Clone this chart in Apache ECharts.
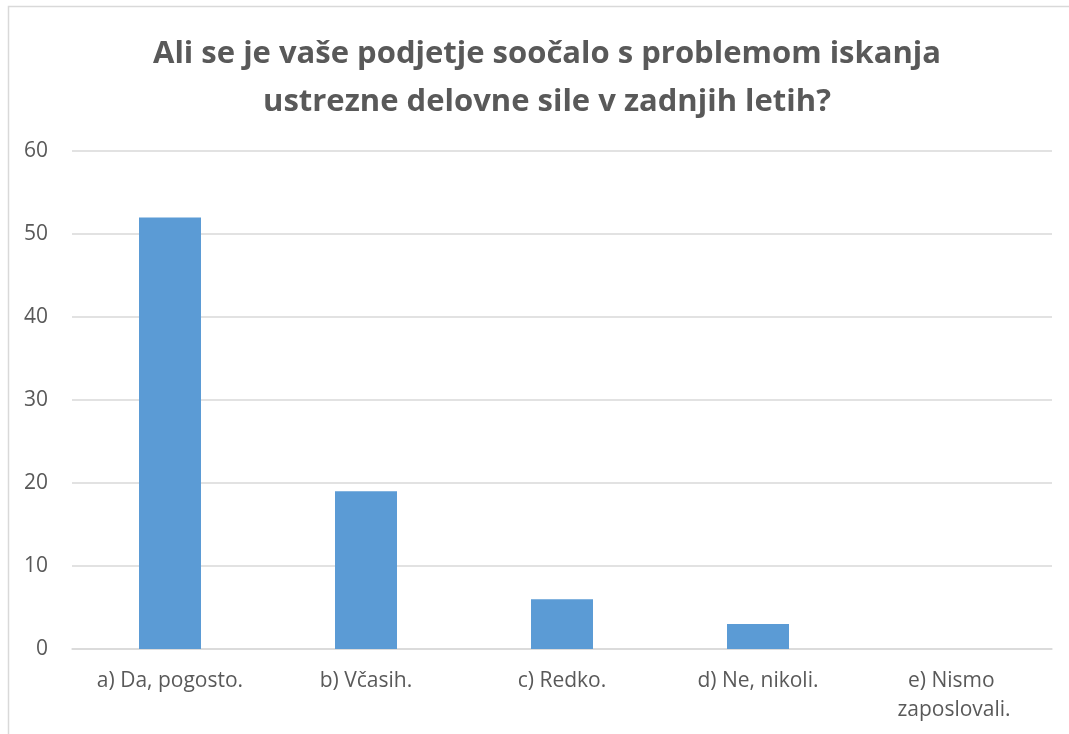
<!DOCTYPE html>
<html>
<head>
<meta charset="utf-8">
<script src="https://cdn.jsdelivr.net/npm/echarts@6/dist/echarts.min.js"></script>
<style>
html,body{margin:0;padding:0;background:#fff;}
#c{width:1069px;height:734px;}
</style>
</head>
<body>
<div id="c"></div>
<script>
const titleText = "Ali se je vaše podjetje soočalo s problemom iskanja\nustrezne delovne sile v zadnjih letih?";
const categories = ["a) Da, pogosto.", "b) Včasih.", "c) Redko.", "d) Ne, nikoli.", "e) Nismo zaposlovali."];
const values = [52, 19, 6, 3, 0];
const yTicks = {min: 0, max: 60, interval: 10};

const chart = echarts.init(document.getElementById('c'));
const font = '"Open Sans", "Noto Sans", sans-serif';
chart.setOption({
  animation: false,
  backgroundColor: '#fff',
  graphic: [{
    type: 'rect',
    shape: {x: 8.5, y: 6.5, width: 1080, height: 760},
    style: {fill: 'none', stroke: '#d9d9d9', lineWidth: 1.5},
    silent: true
  }],
  title: {
    text: titleText,
    left: 542,
    textAlign: 'center',
    top: 25,
    textStyle: {
      fontFamily: font,
      fontSize: 31,
      fontWeight: 'bold',
      color: '#595959',
      lineHeight: 48
    }
  },
  grid: {left: 72, right: 17, top: 151, bottom: 85, containLabel: false},
  xAxis: {
    type: 'category',
    data: categories,
    axisLine: {show: true, lineStyle: {color: '#d9d9d9', width: 1.5}},
    axisTick: {show: false},
    axisLabel: {
      color: '#595959',
      fontFamily: font,
      fontSize: 21,
      margin: 18,
      lineHeight: 29,
      width: 165,
      overflow: 'break',
      interval: 0
    }
  },
  yAxis: {
    type: 'value',
    min: yTicks.min,
    max: yTicks.max,
    interval: yTicks.interval,
    axisLine: {show: false},
    axisTick: {show: false},
    splitLine: {lineStyle: {color: '#d9d9d9', width: 1.5}},
    axisLabel: {
      color: '#595959',
      fontFamily: font,
      fontSize: 21,
      margin: 24
    }
  },
  series: [{
    type: 'bar',
    data: values,
    barWidth: 62,
    itemStyle: {color: '#5B9BD5'}
  }]
});
</script>
</body>
</html>
